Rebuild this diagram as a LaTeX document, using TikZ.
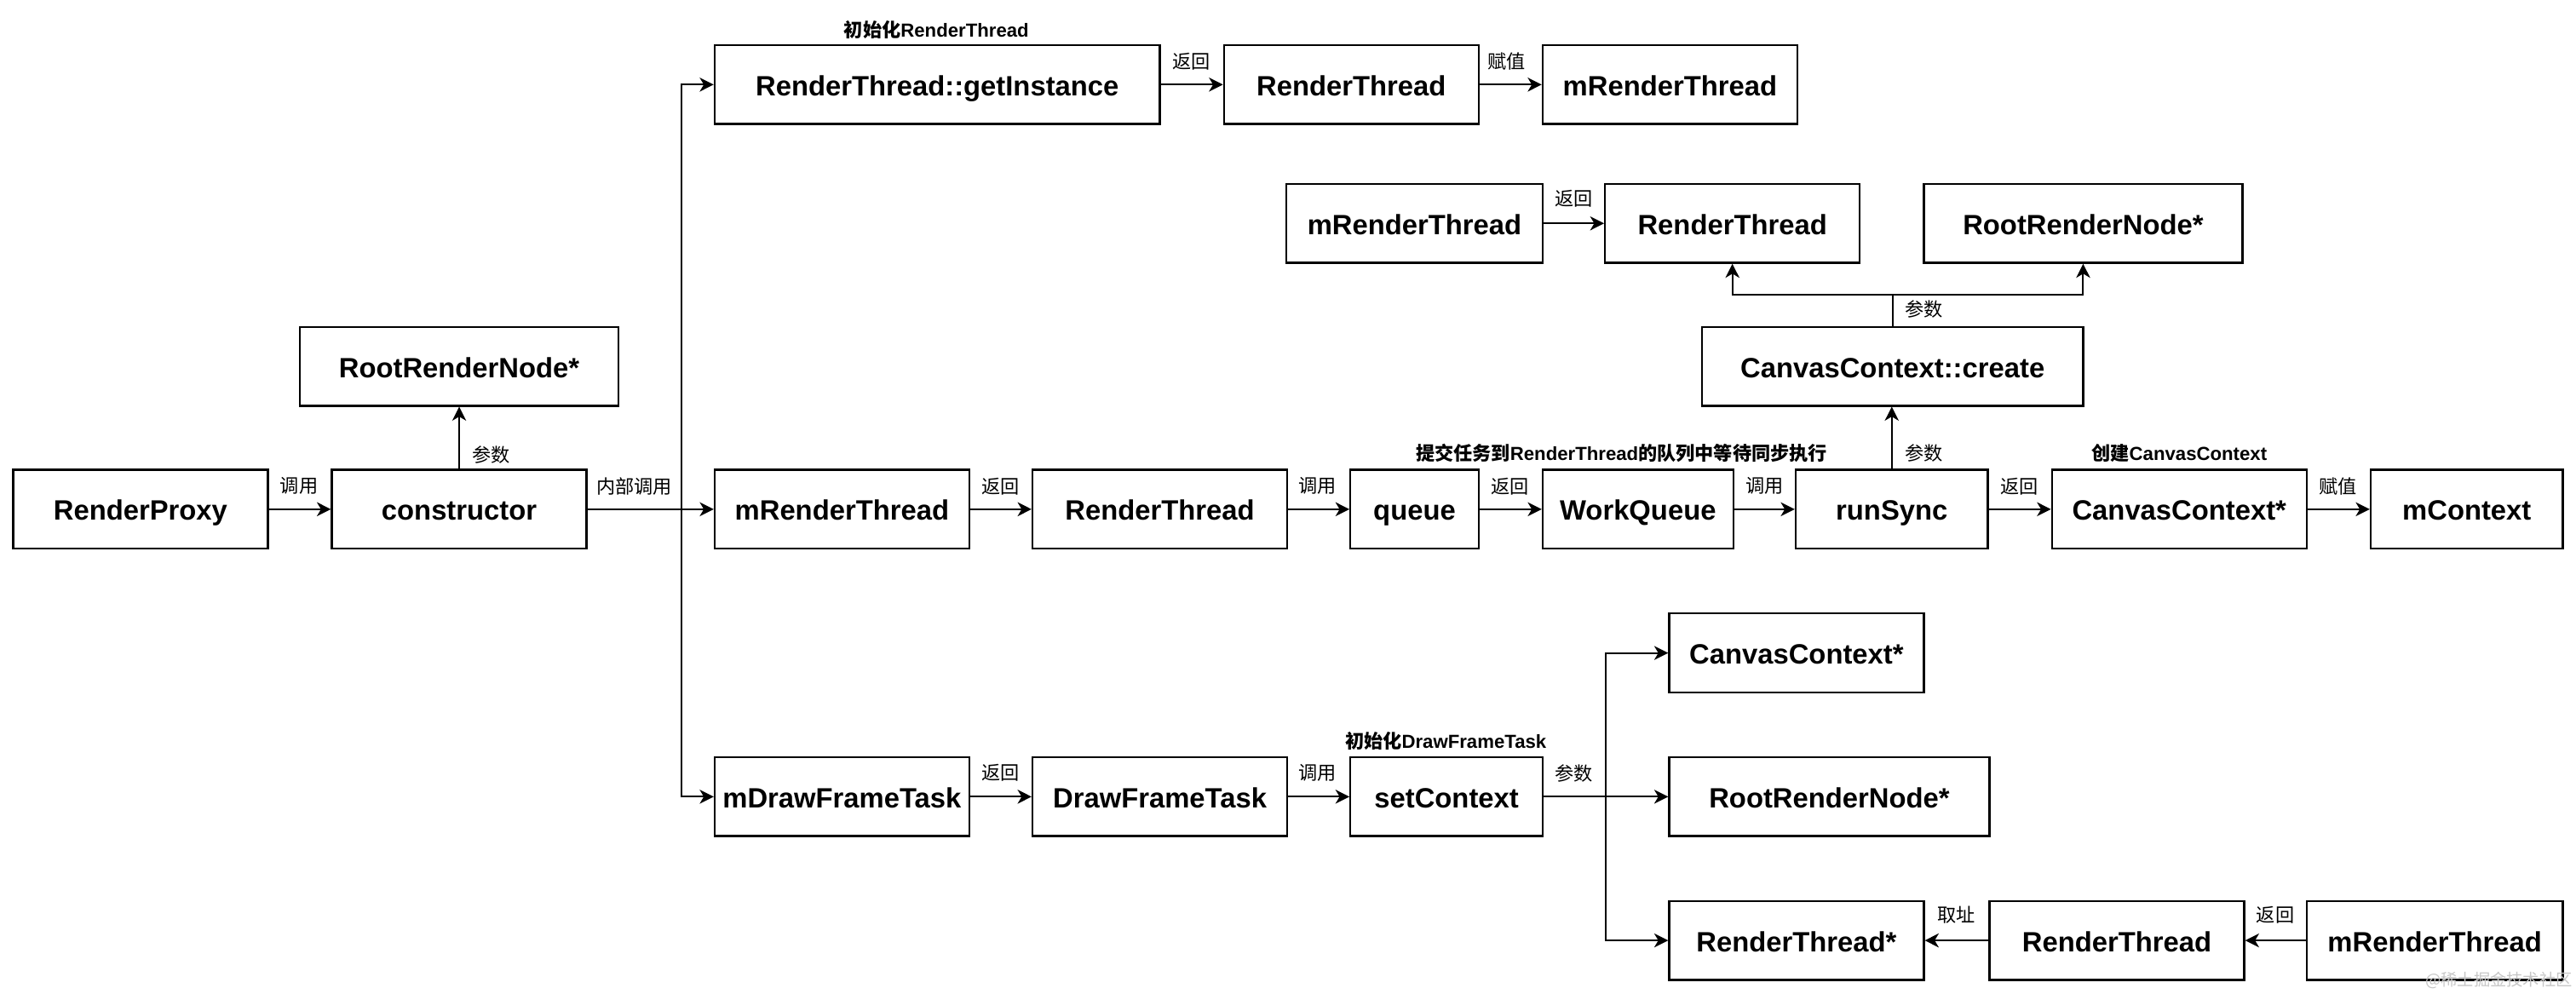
\documentclass[tikz,border=0pt]{standalone}
\usepackage{fontspec}
\setmainfont{Liberation Sans}
\newfontfamily\cjk{Noto Sans CJK SC}
\usetikzlibrary{arrows.meta}
\newcommand\lat[1]{{\rmfamily\bfseries #1}}
\begin{document}
\begin{tikzpicture}[x=1pt,y=-1pt,
 box/.style={draw, line width=1.2pt, minimum height=48pt, inner sep=0pt, text height=13.5pt, text depth=0pt, font=\fontsize{17}{20}\selectfont\bfseries},
 arr/.style={line width=1pt, -{Stealth[length=8.5pt,width=8.5pt,inset=2.5pt]}},
 ln/.style={line width=1pt},
 lbl/.style={font=\cjk\fontsize{11.5}{13}\selectfont, inner sep=0pt},
 blbl/.style={font=\cjk\bfseries\fontsize{11.5}{13}\selectfont, inner sep=0pt},
]
\useasboundingbox (0,0) rectangle (1568,605);

% row 1
\node[box, minimum width=271pt] (getinst) at (570.5,51.5) {RenderThread::getInstance};
\node[box, minimum width=155pt] (rt1) at (822.5,51.5) {RenderThread};
\node[box, minimum width=155pt] (mrt1) at (1016.5,51.5) {mRenderThread};

% row 2
\node[box, minimum width=156pt] (mrt2) at (861,136) {mRenderThread};
\node[box, minimum width=155pt] (rt2) at (1054.5,136) {RenderThread};
\node[box, minimum width=194pt] (rrn2) at (1268,136) {RootRenderNode*};
\node[box, minimum width=232pt] (ccc) at (1152,223) {CanvasContext::create};
\node[box, minimum width=194pt] (rrn1) at (279.5,223) {RootRenderNode*};

% row 3
\node[box, minimum width=155pt] (proxy) at (85.5,310) {RenderProxy};
\node[box, minimum width=155pt] (ctor) at (279.5,310) {constructor};
\node[box, minimum width=155pt] (mrt3) at (512.5,310) {mRenderThread};
\node[box, minimum width=155pt] (rt3) at (706,310) {RenderThread};
\node[box, minimum width=78pt] (queue) at (861,310) {queue};
\node[box, minimum width=116pt] (wq) at (997,310) {WorkQueue};
\node[box, minimum width=117pt] (rs) at (1151.5,310) {runSync};
\node[box, minimum width=155pt] (ccp) at (1326.5,310) {CanvasContext*};
\node[box, minimum width=117pt] (mctx) at (1501.5,310) {mContext};

% row 4
\node[box, minimum width=155pt] (mdft) at (512.5,485) {mDrawFrameTask};
\node[box, minimum width=155pt] (dft) at (706,485) {DrawFrameTask};
\node[box, minimum width=117pt] (setctx) at (880.5,485) {setContext};
\node[box, minimum width=155pt] (cc4) at (1093.5,397.5) {CanvasContext*};
\node[box, minimum width=195pt] (rrn4) at (1113.5,485) {RootRenderNode*};
\node[box, minimum width=155pt] (rtp) at (1093.5,572.5) {RenderThread*};
\node[box, minimum width=155pt] (rt4) at (1288.5,572.5) {RenderThread};
\node[box, minimum width=156pt] (mrt4) at (1482,572.5) {mRenderThread};

% connectors
\draw[arr] (getinst) -- (rt1);
\draw[arr] (rt1) -- (mrt1);
\draw[arr] (mrt2) -- (rt2);
\coordinate (brk) at (1152,179.5);
\draw[ln] (ccc.north) -- (brk);
\draw[arr] (brk) -| (rt2.south);
\draw[arr] (brk) -| (rrn2.south);
\draw[arr] (ctor.north) -- (rrn1.south);

\draw[arr] (proxy) -- (ctor);
\draw[arr] (ctor) -- (mrt3);
\coordinate (bus) at (415,310);
\draw[arr] (bus) |- (getinst.west);
\draw[arr] (bus) |- (mdft.west);
\draw[arr] (mrt3) -- (rt3);
\draw[arr] (rt3) -- (queue);
\draw[arr] (queue) -- (wq);
\draw[arr] (wq) -- (rs);
\draw[arr] (rs) -- (ccp);
\draw[arr] (ccp) -- (mctx);
\draw[arr] (rs.north) -- (rs.north |- ccc.south);

\draw[arr] (mdft) -- (dft);
\draw[arr] (dft) -- (setctx);
\draw[arr] (setctx.east) -- (rrn4.west);
\coordinate (sbus) at (977.5,485);
\draw[arr] (sbus) |- (cc4.west);
\draw[arr] (sbus) |- (rtp.west);
\draw[arr] (rt4) -- (rtp);
\draw[arr] (mrt4) -- (rt4);

% labels
\node[blbl] (l1) at (570,18) {初始化\lat{RenderThread}};
\node[lbl] (l2) at (725,37.5) {返回};
\node[lbl] (l3) at (917,37.5) {赋值};
\node[lbl] (l4) at (958,121) {返回};
\node[lbl] (l5) at (1171,188) {参数};
\node[lbl] (l6) at (182,296) {调用};
\node[lbl] (l7) at (299,277) {参数};
\node[lbl] (l8) at (386,296) {内部调用};
\node[lbl] (l9) at (609,296) {返回};
\node[lbl] (l10) at (802,296) {调用};
\node[lbl] (l11) at (919,296) {返回};
\node[lbl] (l12) at (1074,296) {调用};
\node[lbl] (l13) at (1229,296) {返回};
\node[lbl] (l14) at (1423,296) {赋值};
\node[blbl] (l15) at (987,276) {提交任务到\lat{RenderThread}的队列中等待同步执行};
\node[lbl] (l16) at (1171,276) {参数};
\node[blbl] (l17) at (1326.5,276) {创建\lat{CanvasContext}};
\node[lbl] (l18) at (609,470.5) {返回};
\node[lbl] (l19) at (802,470.5) {调用};
\node[blbl] (l20) at (880,451) {初始化\lat{DrawFrameTask}};
\node[lbl] (l21) at (958,471) {参数};
\node[lbl] (l22) at (1191,557) {取址};
\node[lbl] (l23) at (1385,557) {返回};

\node[font=\cjk\fontsize{10}{12}\selectfont, text=gray!45, anchor=east, inner sep=0pt] (wm) at (1566,597) {@稀土掘金技术社区};
\end{tikzpicture}
\end{document}
